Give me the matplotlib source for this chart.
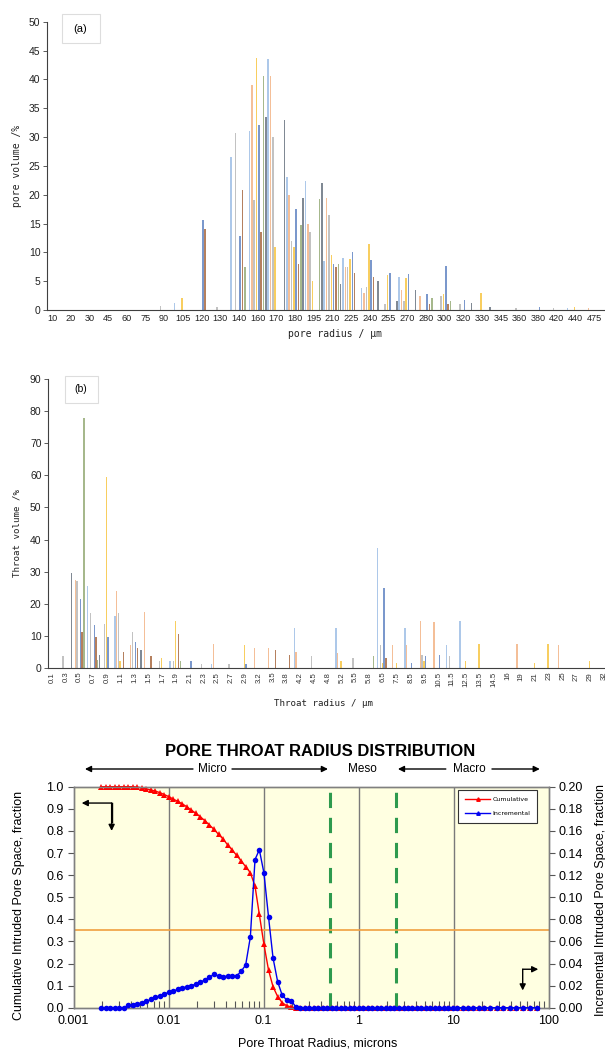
import matplotlib
matplotlib.use('Agg')
import matplotlib.pyplot as plt
import numpy as np
from matplotlib.lines import Line2D
from matplotlib.patches import Rectangle
from matplotlib.ticker import FixedLocator, NullFormatter

W, H, DPI = 605, 1050, 100

# ---------------- Panel (a) data ----------------
pore_labels = ['10', '20', '30', '45', '60', '75', '90', '105', '120', '130', '140', '160', '170', '180',
               '195', '210', '225', '240', '255', '270', '280', '300', '320', '330', '345', '360', '380',
               '420', '440', '475']
#            10 20 30 45 60 75 90 105 120 130 140  160  170  180  195  210  225  240  255  270  280  300  320  330  345  360  380  420  440  475
pa_s1 = [0, 0, 0, 0, 0, 0, 0, 1.3, 0, 0, 26.5, 31, 43.5, 23, 22.3, 8.5, 9, 3.8, 0, 5.8, 0, 0, 0, 0, 0, 0, 0, 0, 0.4, 0]
pa_s2 = [0, 0, 0, 0, 0, 0, 0, 0, 0, 0, 0, 39, 40.5, 20, 15, 19.5, 7.5, 3, 0, 3.5, 2.5, 0, 0, 0, 0, 0, 0, 0, 0, 0.3]
pa_s3 = [0, 0, 0, 0, 0, 0, 0.7, 0, 0, 0.5, 30.7, 19, 30, 12, 13.5, 16.5, 7.5, 4, 1, 1.5, 0, 2.5, 1, 0, 0, 0.3, 0, 0.3, 0, 0]
pa_s4 = [0, 0, 0, 0, 0, 0, 0, 2, 0, 0, 0, 43.7, 11, 11, 5, 9.5, 8.8, 11.5, 6, 5.5, 0, 2.8, 0, 3, 0, 0, 0, 0, 0.5, 0]
pa_s5 = [0, 0, 0, 0, 0, 0, 0, 0, 15.6, 0, 12.8, 32, 0, 17.5, 0, 8, 10, 8.7, 6.5, 6.2, 2.8, 7.7, 1.8, 0, 0, 0, 0.5, 0, 0, 0]
pa_s6 = [0, 0, 0, 0, 0, 0, 0, 0, 14, 0, 20.8, 13.5, 0, 8, 0, 7.5, 6.5, 5.8, 0, 0, 1, 1, 0, 0, 0, 0, 0, 0, 0, 0]
pa_s7 = [0, 0, 0, 0, 0, 0, 0, 0, 0, 0, 7.5, 40.5, 0, 14.7, 19.3, 8, 0, 0, 0, 0, 2, 1.5, 0, 0, 0, 0, 0, 0, 0, 0]
pa_s8 = [0, 0, 0, 0, 0, 0, 0, 0, 0, 0, 0, 33.5, 33, 19.5, 22, 4.5, 0, 5, 1.5, 3.5, 0, 0, 1.2, 0.6, 0, 0, 0, 0, 0, 0]

# ---------------- Panel (b) data ----------------
throat_labels = ['0.1', '0.3', '0.5', '0.7', '0.9', '1.1', '1.3', '1.5', '1.7', '1.9', '2.1', '2.3', '2.5',
                 '2.7', '2.9', '3.2', '3.5', '3.8', '4.2', '4.5', '4.8', '5.2', '5.5', '5.8', '6.5', '7.5',
                 '8.5', '9.5', '10.5', '11.5', '12.5', '13.5', '14.5', '16', '19', '21', '23', '25', '27',
                 '29', '32']
pb_s1 = [0, 0, 0, 25.5, 0, 16, 0, 0, 0, 2, 0, 0, 1, 0, 0, 0, 0, 0, 12.5, 0, 0, 12.5, 0, 0, 37.5, 0, 12.5, 0, 0, 7, 14.5, 0, 0, 0, 0, 0, 0, 0, 0, 0, 0]
pb_s2 = [0, 0, 27.3, 0, 0, 24, 7, 17.5, 0, 0, 0, 0, 7.5, 0, 0, 6, 6, 0, 5, 0, 0, 4.5, 0, 0, 0, 7, 7, 14.5, 14.3, 0, 0, 0, 0, 0, 7.5, 0, 0, 7, 0, 0, 0]
pb_s3 = [0, 3.5, 27, 17, 13.5, 17, 11, 0, 2, 2, 0, 1, 0, 1, 0, 0, 0, 0, 0, 3.5, 0, 0, 3, 0, 7, 0, 0, 4, 0, 3.5, 0, 0, 0, 0, 0, 0, 0, 0, 0, 0, 0]
pb_s4 = [0, 0, 0, 0, 59.5, 2, 0, 0, 3, 14.5, 0, 0, 0, 0, 7, 0, 0, 0, 0, 0, 0, 2, 0, 0, 1.5, 1.5, 0, 2, 0, 0, 2, 7.5, 0, 0, 0, 1.5, 7.5, 0, 0, 2, 0]
pb_s5 = [0, 0, 21.3, 13.3, 9.5, 0, 8, 0, 0, 0, 2, 0, 0, 0, 1, 0, 0, 0, 0, 0, 0, 0, 0, 0, 25, 0, 1.5, 3.5, 4, 0, 0, 0, 0, 0, 0, 0, 0, 0, 0, 0, 0]
pb_s6 = [0, 0, 11, 9.5, 0, 5, 6, 3.5, 0, 10.5, 0, 0, 0, 0, 0, 0, 5.5, 4, 0, 0, 0, 0, 0, 0, 3, 0, 0, 0, 0, 0, 0, 0, 0, 0, 0, 0, 0, 0, 0, 0, 0]
pb_s7 = [0, 0, 78, 2.5, 0, 0, 0, 0, 0, 2, 0, 0, 0, 0, 0, 0, 0, 0, 0, 0, 0, 0, 0, 3.5, 0, 0, 0, 0, 0, 0, 0, 0, 0, 0, 0, 0, 0, 0, 0, 0, 0]
pb_s8 = [0, 29.7, 0, 4, 0, 0, 5.5, 0, 0, 0, 0, 0, 0, 0, 0, 0, 0, 0, 0, 0, 0, 0, 0, 0, 0, 0, 0, 0, 0, 0, 0, 0, 0, 0, 0, 0, 0, 0, 0, 0, 0]

# ---------------- Panel (c) data ----------------
radius_um = [0.00195, 0.00218, 0.00242, 0.00271, 0.00301, 0.00337, 0.00378, 0.00420, 0.00470, 0.00522,
             0.00584, 0.00654, 0.00727, 0.00814, 0.00904, 0.0101, 0.0112, 0.0125, 0.0140, 0.0155,
             0.0174, 0.0195, 0.0216, 0.0242, 0.0269, 0.0301, 0.0337, 0.0378, 0.0420, 0.0470,
             0.0522, 0.0584, 0.0649, 0.0727, 0.0814, 0.0904, 0.101, 0.113, 0.126, 0.141,
             0.157, 0.175, 0.196, 0.218, 0.244, 0.272, 0.303, 0.338, 0.377, 0.420,
             0.468, 0.522, 0.582, 0.649, 0.723, 0.806, 0.899, 1.00, 1.12, 1.25,
             1.39, 1.55, 1.73, 1.93, 2.15, 2.39, 2.67, 2.98, 3.32, 3.70,
             4.12, 4.60, 5.13, 5.72, 6.37, 7.10, 7.92, 8.83, 9.85, 11.0,
             12.5, 14.2, 16.2, 18.5, 21.0, 24.5, 28.5, 33.0, 39.0, 46.0,
             54.0, 64.0, 76.0]
cumulative = [1.0, 1.0, 1.0, 1.0, 1.0, 1.0, 1.0, 1.0, 0.998, 0.995,
              0.99, 0.985, 0.98, 0.973, 0.964, 0.955, 0.944, 0.934, 0.922, 0.91,
              0.894, 0.879, 0.864, 0.846, 0.827, 0.807, 0.784, 0.762, 0.736, 0.713,
              0.689, 0.664, 0.638, 0.611, 0.55, 0.422, 0.287, 0.17, 0.095, 0.05,
              0.023, 0.009, 0.003, 0.0, 0.0, 0.0, 0.0, 0.0, 0.0, 0.0,
              0.0, 0.0, 0.0, 0.0, 0.0, 0.0, 0.0, 0.0, 0.0, 0.0,
              0.0, 0.0, 0.0, 0.0, 0.0, 0.0, 0.0, 0.0, 0.0, 0.0,
              0.0, 0.0, 0.0, 0.0, 0.0, 0.0, 0.0, 0.0, 0.0, 0.0,
              0.0, 0.0, 0.0, 0.0, 0.0, 0.0, 0.0, 0.0, 0.0, 0.0,
              0.0, 0.0, 0.0]
incremental = [0.0, 0.0, 0.0, 0.0, 0.0, 0.0, 0.002, 0.0024, 0.0033, 0.0045,
               0.0057, 0.0075, 0.0094, 0.0109, 0.0124, 0.0139, 0.0148, 0.0166, 0.0178, 0.019,
               0.0199, 0.0214, 0.0232, 0.025, 0.0275, 0.0302, 0.0287, 0.028, 0.0287, 0.0287,
               0.0287, 0.0332, 0.0386, 0.064, 0.134, 0.143, 0.122, 0.082, 0.045, 0.0235,
               0.0115, 0.007, 0.0063, 0.001, 0.0, 0.0, 0.0, 0.0, 0.0, 0.0,
               0.0, 0.0, 0.0, 0.0, 0.0, 0.0, 0.0, 0.0, 0.0, 0.0,
               0.0, 0.0, 0.0, 0.0, 0.0, 0.0, 0.0, 0.0, 0.0, 0.0,
               0.0, 0.0, 0.0, 0.0, 0.0, 0.0, 0.0, 0.0, 0.0, 0.0,
               0.0, 0.0, 0.0, 0.0, 0.0, 0.0, 0.0, 0.0, 0.0, 0.0,
               0.0, 0.0, 0.0]

series_colors = ['#9FBFE6', '#F3B486', '#B8B8B8', '#F7C644', '#6486C4', '#A86A42', '#97AC78', '#6A7482']

fig = plt.figure(figsize=(W / DPI, H / DPI), dpi=DPI)


def fx(px):
    return px / W


def fy(py):
    return 1 - py / H


def style_cat_axes(ax):
    for s in ['top', 'right']:
        ax.spines[s].set_visible(False)
    for s in ['left', 'bottom']:
        ax.spines[s].set_color('#404040')
        ax.spines[s].set_linewidth(0.8)
    ax.tick_params(axis='y', direction='out', length=3, width=0.6, colors='#404040',
                   labelsize=7.5, labelcolor='#222222', pad=2)
    for t in ax.get_yticklabels():
        t.set_family('Liberation Sans')


offsets = [-0.4375 + 0.125 * k for k in range(8)]

# ---------------- Panel (a) ----------------
axa = fig.add_axes([fx(47.3), fy(310), 561 / W, (310 - 21.7) / H])
xa = np.arange(len(pore_labels))
for k, vals in enumerate([pa_s1, pa_s2, pa_s3, pa_s4, pa_s5, pa_s6, pa_s7, pa_s8]):
    axa.bar(xa + offsets[k], vals, width=0.085, color=series_colors[k], alpha=0.85, linewidth=0)
axa.set_xlim(-0.25, 29.75)
axa.set_ylim(0, 50)
axa.set_yticks(np.arange(0, 51, 5))
axa.set_xticks(xa)
axa.set_xticklabels(pore_labels, fontsize=6.6, family='Liberation Sans', color='#222222')
axa.tick_params(axis='x', length=0, pad=3)
style_cat_axes(axa)
fig.text(fx(335), fy(334), 'pore radius / \u03bcm', ha='center', va='center', fontsize=7,
         family='DejaVu Sans Mono', color='#222222')
fig.text(fx(17), fy(166), 'pore volume /%', ha='center', va='center', rotation=90, fontsize=7,
         family='DejaVu Sans Mono', color='#222222')
fig.add_artist(Rectangle((fx(61.5), fy(43)), 38.5 / W, 29 / H, transform=fig.transFigure,
                         facecolor='white', edgecolor='#DDDDDD', linewidth=0.8))
fig.text(fx(80.5), fy(28.5), '(a)', ha='center', va='center', fontsize=8, family='Liberation Sans')

# ---------------- Panel (b) ----------------
axb = fig.add_axes([fx(48.5), fy(667.7), 566 / W, (667.7 - 379.3) / H])
xb = np.arange(len(throat_labels))
for k, vals in enumerate([pb_s1, pb_s2, pb_s3, pb_s4, pb_s5, pb_s6, pb_s7, pb_s8]):
    axb.bar(xb + offsets[k], vals, width=0.1, color=series_colors[k], alpha=0.85, linewidth=0)
axb.set_xlim(-0.25, 40.75)
axb.set_ylim(0, 90)
axb.set_yticks(np.arange(0, 91, 10))
axb.set_xticks(xb)
axb.set_xticklabels(throat_labels, fontsize=5.6, family='Liberation Sans', rotation=90, color='#333333')
axb.tick_params(axis='x', length=0, pad=3)
style_cat_axes(axb)
fig.text(fx(324), fy(703), 'Throat radius / \u03bcm', ha='center', va='center', fontsize=6.6,
         family='DejaVu Sans Mono', color='#222222')
fig.text(fx(17), fy(533), 'Throat volume /%', ha='center', va='center', rotation=90, fontsize=6.6,
         family='DejaVu Sans Mono', color='#222222')
fig.add_artist(Rectangle((fx(64.5), fy(403)), 33 / W, 27 / H, transform=fig.transFigure,
                         facecolor='white', edgecolor='#DDDDDD', linewidth=0.8))
fig.text(fx(81), fy(389.5), '(b)', ha='center', va='center', fontsize=7.5, family='Liberation Sans')

# ---------------- Panel (c) ----------------
axc = fig.add_axes([fx(73.5), fy(1007.7), 475 / W, 221 / H])
axc.set_facecolor('#FFFFE1')
axc.set_xscale('log')
axc.set_xlim(0.001, 100)
axc.set_ylim(0, 1.0)
for xv in [0.01, 0.1, 1, 10]:
    axc.axvline(xv, color='#7A7A7A', lw=1.0, zorder=1)
for xv in [0.5, 2.5]:
    axc.axvline(xv, color='#2E9A4E', lw=2.2, dashes=(5, 3.2), zorder=2)
axc.axhline(0.35, color='#F0A040', lw=1.2, zorder=2)
axc.plot(radius_um, cumulative, color='#FF0000', lw=1.0, marker='^', markersize=4.2,
         markeredgewidth=0, zorder=4, clip_on=False)
for s in axc.spines.values():
    s.set_color('#808080')
    s.set_linewidth(1.0)
axc.set_yticks(np.arange(0, 1.01, 0.1))
axc.set_yticklabels(['%.1f' % v for v in np.arange(0, 1.01, 0.1)], fontsize=9, family='Liberation Sans')
axc.tick_params(axis='y', direction='out', length=4, width=0.8, colors='#555555', labelcolor='black', pad=3)
axc.xaxis.set_major_locator(FixedLocator([0.001, 0.01, 0.1, 1, 10, 100]))
axc.set_xticklabels(['0.001', '0.01', '0.1', '1', '10', '100'], fontsize=9, family='Liberation Sans')
minor = [m * d for d in [0.001, 0.01, 0.1, 1, 10] for m in range(2, 10)]
axc.xaxis.set_minor_locator(FixedLocator(minor))
axc.xaxis.set_minor_formatter(NullFormatter())
axc.tick_params(axis='x', which='major', direction='in', length=0, pad=5)
axc.tick_params(axis='x', which='minor', direction='in', length=5, width=0.8, colors='#555555')

ax2 = axc.twinx()
ax2.set_ylim(0, 0.20)
ax2.plot(radius_um, incremental, color='#0000F0', lw=1.0, marker='o', markersize=4.0,
         markeredgewidth=0, zorder=5, clip_on=False)
ax2.set_yticks(np.arange(0, 0.201, 0.02))
ax2.set_yticklabels(['%.2f' % v for v in np.arange(0, 0.201, 0.02)], fontsize=9, family='Liberation Sans')
ax2.tick_params(axis='y', direction='out', length=4, width=0.8, colors='#555555', labelcolor='black', pad=3)
for s in ax2.spines.values():
    s.set_color('#808080')
    s.set_linewidth(1.0)

handles = [Line2D([], [], color='#FF0000', lw=1.0, marker='^', markersize=2.5),
           Line2D([], [], color='#0000F0', lw=1.0, marker='^', markersize=2.5)]
leg = ax2.legend(handles, ['Cumulative', 'Incremental'], loc='upper right',
                 bbox_to_anchor=(1 - 8 / 475, 1.0), fontsize=4.5, frameon=True, fancybox=False,
                 handlelength=4.0, handletextpad=0.4, labelspacing=1.4, borderpad=1.1)
leg.get_frame().set_edgecolor('#333333')
leg.get_frame().set_linewidth(0.8)
leg.get_frame().set_facecolor('white')
leg.get_frame().set_alpha(1)

fig.text(fx(320), fy(752), 'PORE THROAT RADIUS DISTRIBUTION', ha='center', va='center', fontsize=12,
         weight='bold', family='Liberation Sans')
fig.text(fx(19), fy(905), 'Cumulative Intruded Pore Space, fraction', ha='center', va='center',
         rotation=90, fontsize=9, family='Liberation Sans')
fig.text(fx(601), fy(900), 'Incremental Intruded Pore Space, fraction', ha='center', va='center',
         rotation=90, fontsize=9, family='Liberation Sans')
fig.text(fx(318), fy(1044), 'Pore Throat Radius, microns', ha='center', va='center', fontsize=9,
         family='Liberation Sans')

# Micro / Meso / Macro markers
tr = axc.get_xaxis_transform()
yrow = (1007.7 - 769) / 221
ap = dict(arrowstyle='-|>', lw=1.0, color='black', mutation_scale=9, shrinkA=0, shrinkB=0)
axc.annotate('', xy=(0.00132, yrow), xytext=(0.0181, yrow), xycoords=tr, textcoords=tr,
             arrowprops=ap, annotation_clip=False)
axc.annotate('', xy=(0.477, yrow), xytext=(0.0466, yrow), xycoords=tr, textcoords=tr,
             arrowprops=ap, annotation_clip=False)
axc.annotate('', xy=(2.6, yrow), xytext=(8.3, yrow), xycoords=tr, textcoords=tr,
             arrowprops=ap, annotation_clip=False)
axc.annotate('', xy=(81, yrow), xytext=(25.4, yrow), xycoords=tr, textcoords=tr,
             arrowprops=ap, annotation_clip=False)
for xt, lab in [(0.029, 'Micro'), (1.09, 'Meso'), (14.6, 'Macro')]:
    axc.text(xt, yrow, lab, transform=tr, ha='center', va='center', fontsize=8.5, family='Liberation Sans')

# corner arrows
axc.plot([0.00252, 0.00252], [0.926, 0.84], color='black', lw=1.0, zorder=6)
axc.annotate('', xy=(0.00122, 0.926), xytext=(0.00252, 0.926), arrowprops=ap, annotation_clip=False)
axc.annotate('', xy=(0.00252, 0.80), xytext=(0.00252, 0.926), arrowprops=ap, annotation_clip=False)
axc.annotate('', xy=(78, 0.174), xytext=(53.5, 0.174), arrowprops=ap, annotation_clip=False)
axc.annotate('', xy=(53.5, 0.078), xytext=(53.5, 0.174), arrowprops=ap, annotation_clip=False)

fig.savefig('out.png', dpi=DPI)
